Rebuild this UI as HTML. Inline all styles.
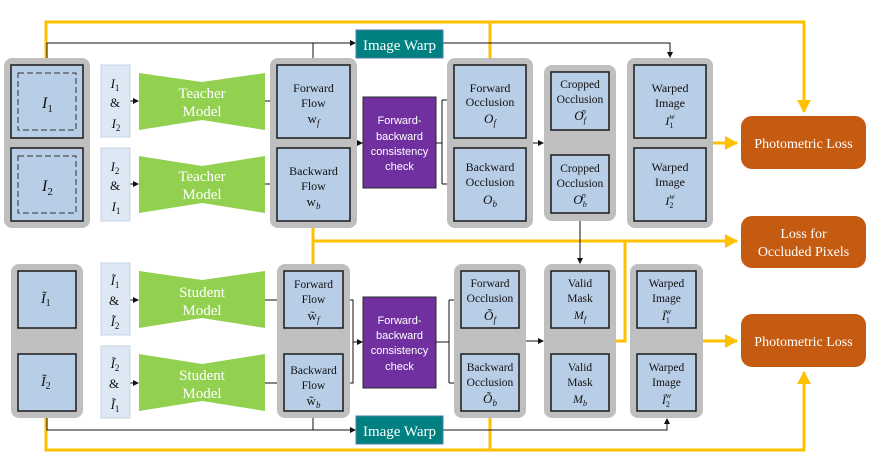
<!DOCTYPE html>
<html><head><meta charset="utf-8"><style>
html,body{margin:0;padding:0;background:#fff;}
svg{display:block;}
.s{font-family:"Liberation Serif",serif;fill:#111;}
.w{font-family:"Liberation Serif",serif;fill:#fff;}
.c{font-family:"Liberation Sans",sans-serif;fill:#fff;}
.g{fill:#bfbfbf;}
.b{fill:#b8cde6;stroke:#1a1a1a;stroke-width:1.5;}
.i{fill:#dde8f4;stroke:#c5d3e3;stroke-width:1;}
.t{fill:#92d050;}
.p{fill:#7030a0;stroke:#2a2a2a;stroke-width:1;}
.o{fill:#c55a11;}
.k{stroke:#111;stroke-width:1;fill:none;}
.y{stroke:#ffc000;stroke-width:3;fill:none;}
</style></head><body>
<svg width="871" height="465" viewBox="0 0 871 465" xmlns="http://www.w3.org/2000/svg">
<defs>
<marker id="ak" markerWidth="6" markerHeight="6" refX="5" refY="3" orient="auto" markerUnits="userSpaceOnUse"><path d="M0,0 L6,3 L0,6z" fill="#111"/></marker>
<marker id="ay" markerWidth="14" markerHeight="14" refX="12" refY="7" orient="auto" markerUnits="userSpaceOnUse"><path d="M0,0 L13,7 L0,14z" fill="#ffc000"/></marker>
</defs>

<!-- yellow lines -->
<path class="y" d="M46,58 V22 H804 V112" marker-end="url(#ay)"/>
<path class="y" d="M490,22 V58"/>
<path class="y" d="M713,143 H737" marker-end="url(#ay)"/>
<path class="y" d="M313,228 V264"/>
<path class="y" d="M313,241 H737" marker-end="url(#ay)"/>
<path class="y" d="M616,341 H625 V241"/>
<path class="y" d="M703,341 H737" marker-end="url(#ay)"/>
<path class="y" d="M46,418 V450 H804 V372" marker-end="url(#ay)"/>
<path class="y" d="M490,418 V450"/>

<!-- black lines -->
<path class="k" d="M47,58 V43 H355" marker-end="url(#ak)"/>
<path class="k" d="M313,58 V43"/>
<path class="k" d="M443,43 H670 V57" marker-end="url(#ak)"/>
<path class="k" d="M130,101 H138" marker-end="url(#ak)"/>
<path class="k" d="M130,184 H138" marker-end="url(#ak)"/>
<path class="k" d="M265,101 H277 M265,184 H277"/>
<path class="k" d="M357,143 H362" marker-end="url(#ak)"/>
<path class="k" d="M436,143 H442 M442,100 V184"/>
<path class="k" d="M442,100 H453" marker-end="url(#ak)"/>
<path class="k" d="M442,184 H453" marker-end="url(#ak)"/>
<path class="k" d="M533,143 H543" marker-end="url(#ak)"/>
<path class="k" d="M580,221 V263" marker-end="url(#ak)"/>

<path class="k" d="M130,300 H138" marker-end="url(#ak)"/>
<path class="k" d="M130,383 H138" marker-end="url(#ak)"/>
<path class="k" d="M265,300 H283" marker-end="url(#ak)"/>
<path class="k" d="M265,383 H283" marker-end="url(#ak)"/>
<path class="k" d="M343,300 H353 V383 H343"/>
<path class="k" d="M353,342 H362" marker-end="url(#ak)"/>
<path class="k" d="M436,342 H449 M449,300 V383"/>
<path class="k" d="M449,300 H460" marker-end="url(#ak)"/>
<path class="k" d="M449,383 H460" marker-end="url(#ak)"/>
<path class="k" d="M526,341 H543" marker-end="url(#ak)"/>
<path class="k" d="M47,418 V430 H355" marker-end="url(#ak)"/>
<path class="k" d="M313,418 V430"/>
<path class="k" d="M443,430 H667 V419" marker-end="url(#ak)"/>

<!-- Image warp -->
<rect x="356" y="30" width="87" height="28" fill="#008080" stroke="#4a7fa8" stroke-width="1"/>
<text class="w" x="399.5" y="50" font-size="15" text-anchor="middle">Image Warp</text>
<rect x="356" y="416" width="87" height="28" fill="#008080" stroke="#4a7fa8" stroke-width="1"/>
<text class="w" x="399.5" y="436" font-size="15" text-anchor="middle">Image Warp</text>

<!-- Top: image group -->
<rect class="g" x="4" y="58" width="86" height="170" rx="8"/>
<rect class="b" x="11" y="65" width="72" height="73"/>
<rect x="18" y="73" width="58" height="57" fill="none" stroke="#333" stroke-dasharray="6,3"/>
<text class="s" x="42" y="108" font-size="16" font-style="italic">I<tspan font-size="11" font-style="normal" dy="4">1</tspan></text>
<rect class="b" x="11" y="148" width="72" height="73"/>
<rect x="18" y="156" width="58" height="57" fill="none" stroke="#333" stroke-dasharray="6,3"/>
<text class="s" x="42" y="191" font-size="16" font-style="italic">I<tspan font-size="11" font-style="normal" dy="4">2</tspan></text>

<rect class="i" x="101" y="65" width="29" height="72"/>
<text class="s" font-size="13" text-anchor="middle"><tspan x="115" y="88" font-style="italic">I<tspan font-size="9" font-style="normal" dy="3">1</tspan></tspan><tspan x="115" y="107">&amp;</tspan><tspan x="116" y="128" font-style="italic">I<tspan font-size="9" font-style="normal" dy="3">2</tspan></tspan></text>
<rect class="i" x="101" y="148" width="29" height="73"/>
<text class="s" font-size="13" text-anchor="middle"><tspan x="115" y="171" font-style="italic">I<tspan font-size="9" font-style="normal" dy="3">2</tspan></tspan><tspan x="115" y="190">&amp;</tspan><tspan x="116" y="211" font-style="italic">I<tspan font-size="9" font-style="normal" dy="3">1</tspan></tspan></text>

<polygon class="t" points="139,73 202,82 265,73 265,130 202,120 139,130"/>
<text class="w" x="202" y="98" font-size="15" text-anchor="middle">Teacher</text>
<text class="w" x="202" y="116" font-size="15" text-anchor="middle">Model</text>
<polygon class="t" points="139,156 202,166 265,156 265,213 202,203 139,213"/>
<text class="w" x="202" y="181" font-size="15" text-anchor="middle">Teacher</text>
<text class="w" x="202" y="199" font-size="15" text-anchor="middle">Model</text>

<rect class="g" x="270" y="58" width="87" height="170" rx="8"/>
<rect class="b" x="277" y="65" width="73" height="73"/>
<text class="s" x="313.5" y="92" font-size="12" text-anchor="middle">Forward</text>
<text class="s" x="313.5" y="107" font-size="12" text-anchor="middle">Flow</text>
<text class="s" x="313.5" y="123" font-size="13" text-anchor="middle">w<tspan font-size="9" font-style="italic" dy="3">f</tspan></text>
<rect class="b" x="277" y="148" width="73" height="73"/>
<text class="s" x="313.5" y="175" font-size="12" text-anchor="middle">Backward</text>
<text class="s" x="313.5" y="190" font-size="12" text-anchor="middle">Flow</text>
<text class="s" x="313.5" y="206" font-size="13" text-anchor="middle">w<tspan font-size="9" font-style="italic" dy="3">b</tspan></text>

<rect class="p" x="363" y="97" width="73" height="91"/>
<text class="c" x="399.5" y="124" font-size="11" text-anchor="middle">Forward-</text>
<text class="c" x="399.5" y="140" font-size="11" text-anchor="middle">backward</text>
<text class="c" x="399.5" y="155" font-size="11" text-anchor="middle">consistency</text>
<text class="c" x="399.5" y="170" font-size="11" text-anchor="middle">check</text>

<rect class="g" x="447" y="58" width="86" height="170" rx="8"/>
<rect class="b" x="454" y="65" width="72" height="73"/>
<text class="s" x="490" y="92" font-size="12" text-anchor="middle">Forward</text>
<text class="s" x="490" y="106" font-size="12" text-anchor="middle">Occlusion</text>
<text class="s" x="490" y="123" font-size="13" font-style="italic" text-anchor="middle">O<tspan font-size="9" dy="3">f</tspan></text>
<rect class="b" x="454" y="148" width="72" height="73"/>
<text class="s" x="490" y="171" font-size="12" text-anchor="middle">Backward</text>
<text class="s" x="490" y="186" font-size="12" text-anchor="middle">Occlusion</text>
<text class="s" x="490" y="204" font-size="13" font-style="italic" text-anchor="middle">O<tspan font-size="9" dy="3">b</tspan></text>

<rect class="g" x="544" y="65" width="72" height="156" rx="8"/>
<rect class="b" x="551" y="72" width="58" height="58"/>
<text class="s" x="580" y="88" font-size="11.5" text-anchor="middle">Cropped</text>
<text class="s" x="580" y="103" font-size="11.5" text-anchor="middle">Occlusion</text>
<text class="s" x="580" y="120" font-size="13" font-style="italic" text-anchor="middle">O<tspan font-size="8" dy="3">f</tspan><tspan font-size="8" dx="-4" dy="-9">p</tspan></text>
<rect class="b" x="551" y="155" width="58" height="58"/>
<text class="s" x="580" y="172" font-size="11.5" text-anchor="middle">Cropped</text>
<text class="s" x="580" y="187" font-size="11.5" text-anchor="middle">Occlusion</text>
<text class="s" x="580" y="204" font-size="13" font-style="italic" text-anchor="middle">O<tspan font-size="8" dy="3">b</tspan><tspan font-size="8" dx="-5" dy="-9">p</tspan></text>

<rect class="g" x="627" y="58" width="86" height="170" rx="8"/>
<rect class="b" x="634" y="65" width="72" height="73"/>
<text class="s" x="670" y="92" font-size="12" text-anchor="middle">Warped</text>
<text class="s" x="670" y="107" font-size="12" text-anchor="middle">Image</text>
<text class="s" x="670" y="125" font-size="12" font-style="italic" text-anchor="middle">I<tspan font-size="8" font-style="normal" dy="3">1</tspan><tspan font-size="8" dx="-4" dy="-9">w</tspan></text>
<rect class="b" x="634" y="148" width="72" height="73"/>
<text class="s" x="670" y="171" font-size="12" text-anchor="middle">Warped</text>
<text class="s" x="670" y="186" font-size="12" text-anchor="middle">Image</text>
<text class="s" x="670" y="205" font-size="12" font-style="italic" text-anchor="middle">I<tspan font-size="8" font-style="normal" dy="3">2</tspan><tspan font-size="8" dx="-4" dy="-9">w</tspan></text>

<rect class="o" x="741" y="116" width="125" height="53" rx="11"/>
<text class="w" x="803.5" y="148" font-size="14" text-anchor="middle">Photometric Loss</text>
<rect class="o" x="741" y="216" width="125" height="52" rx="11"/>
<text class="w" x="803.5" y="238" font-size="14" text-anchor="middle">Loss for</text>
<text class="w" x="803.5" y="256" font-size="14" text-anchor="middle">Occluded Pixels</text>
<rect class="o" x="741" y="314" width="125" height="53" rx="11"/>
<text class="w" x="803.5" y="346" font-size="14" text-anchor="middle">Photometric Loss</text>

<!-- Bottom -->
<rect class="g" x="11" y="264" width="72" height="154" rx="8"/>
<rect class="b" x="18" y="271" width="58" height="57"/>
<text class="s" x="41" y="303" font-size="14" font-style="italic">Ĩ<tspan font-size="10" font-style="normal" dy="3">1</tspan></text>
<rect class="b" x="18" y="354" width="58" height="57"/>
<text class="s" x="41" y="386" font-size="14" font-style="italic">Ĩ<tspan font-size="10" font-style="normal" dy="3">2</tspan></text>

<rect class="i" x="101" y="263" width="29" height="72"/>
<text class="s" font-size="13" text-anchor="middle"><tspan x="115" y="285" font-style="italic">Ĩ<tspan font-size="9" font-style="normal" dy="3">1</tspan></tspan><tspan x="114" y="305">&amp;</tspan><tspan x="115" y="326" font-style="italic">Ĩ<tspan font-size="9" font-style="normal" dy="3">2</tspan></tspan></text>
<rect class="i" x="101" y="346" width="29" height="72"/>
<text class="s" font-size="13" text-anchor="middle"><tspan x="115" y="368" font-style="italic">Ĩ<tspan font-size="9" font-style="normal" dy="3">2</tspan></tspan><tspan x="114" y="388">&amp;</tspan><tspan x="115" y="409" font-style="italic">Ĩ<tspan font-size="9" font-style="normal" dy="3">1</tspan></tspan></text>

<polygon class="t" points="139,271 202,280 265,271 265,328 202,318 139,328"/>
<text class="w" x="202" y="297" font-size="15" text-anchor="middle">Student</text>
<text class="w" x="202" y="315" font-size="15" text-anchor="middle">Model</text>
<polygon class="t" points="139,354 202,364 265,354 265,411 202,401 139,411"/>
<text class="w" x="202" y="380" font-size="15" text-anchor="middle">Student</text>
<text class="w" x="202" y="398" font-size="15" text-anchor="middle">Model</text>

<rect class="g" x="277" y="264" width="73" height="154" rx="8"/>
<rect class="b" x="284" y="271" width="59" height="57"/>
<text class="s" x="313.5" y="288" font-size="11.5" text-anchor="middle">Forward</text>
<text class="s" x="313.5" y="303" font-size="11.5" text-anchor="middle">Flow</text>
<text class="s" x="313.5" y="320" font-size="13" text-anchor="middle">w̃<tspan font-size="9" font-style="italic" dy="3">f</tspan></text>
<rect class="b" x="284" y="354" width="59" height="57"/>
<text class="s" x="313.5" y="374" font-size="11.5" text-anchor="middle">Backward</text>
<text class="s" x="313.5" y="389" font-size="11.5" text-anchor="middle">Flow</text>
<text class="s" x="313.5" y="405" font-size="13" text-anchor="middle">w̃<tspan font-size="9" font-style="italic" dy="3">b</tspan></text>

<rect class="p" x="363" y="297" width="73" height="91"/>
<text class="c" x="399.5" y="324" font-size="11" text-anchor="middle">Forward-</text>
<text class="c" x="399.5" y="339" font-size="11" text-anchor="middle">backward</text>
<text class="c" x="399.5" y="354" font-size="11" text-anchor="middle">consistency</text>
<text class="c" x="399.5" y="370" font-size="11" text-anchor="middle">check</text>

<rect class="g" x="454" y="264" width="72" height="154" rx="8"/>
<rect class="b" x="461" y="271" width="58" height="57"/>
<text class="s" x="490" y="287" font-size="11.5" text-anchor="middle">Forward</text>
<text class="s" x="490" y="302" font-size="11.5" text-anchor="middle">Occlusion</text>
<text class="s" x="490" y="320" font-size="13" font-style="italic" text-anchor="middle">Õ<tspan font-size="9" dy="3">f</tspan></text>
<rect class="b" x="461" y="354" width="58" height="57"/>
<text class="s" x="490" y="371" font-size="11.5" text-anchor="middle">Backward</text>
<text class="s" x="490" y="386" font-size="11.5" text-anchor="middle">Occlusion</text>
<text class="s" x="490" y="403" font-size="13" font-style="italic" text-anchor="middle">Õ<tspan font-size="9" dy="3">b</tspan></text>

<rect class="g" x="544" y="264" width="72" height="154" rx="8"/>
<rect class="b" x="551" y="271" width="58" height="57"/>
<text class="s" x="580" y="287" font-size="11.5" text-anchor="middle">Valid</text>
<text class="s" x="580" y="302" font-size="11.5" text-anchor="middle">Mask</text>
<text class="s" x="580" y="319" font-size="12" font-style="italic" text-anchor="middle">M<tspan font-size="8" dy="3">f</tspan></text>
<rect class="b" x="551" y="354" width="58" height="57"/>
<text class="s" x="580" y="371" font-size="11.5" text-anchor="middle">Valid</text>
<text class="s" x="580" y="386" font-size="11.5" text-anchor="middle">Mask</text>
<text class="s" x="580" y="403" font-size="12" font-style="italic" text-anchor="middle">M<tspan font-size="8" dy="3">b</tspan></text>

<rect class="g" x="630" y="264" width="73" height="154" rx="8"/>
<rect class="b" x="637" y="271" width="59" height="57"/>
<text class="s" x="666.5" y="287" font-size="11.5" text-anchor="middle">Warped</text>
<text class="s" x="666.5" y="302" font-size="11.5" text-anchor="middle">Image</text>
<text class="s" x="666.5" y="320" font-size="12" font-style="italic" text-anchor="middle">Ĩ<tspan font-size="8" font-style="normal" dy="3">1</tspan><tspan font-size="8" dx="-4" dy="-9">w</tspan></text>
<rect class="b" x="637" y="354" width="59" height="57"/>
<text class="s" x="666.5" y="371" font-size="11.5" text-anchor="middle">Warped</text>
<text class="s" x="666.5" y="386" font-size="11.5" text-anchor="middle">Image</text>
<text class="s" x="666.5" y="404" font-size="12" font-style="italic" text-anchor="middle">Ĩ<tspan font-size="8" font-style="normal" dy="3">2</tspan><tspan font-size="8" dx="-4" dy="-9">w</tspan></text>
</svg>
</body></html>
